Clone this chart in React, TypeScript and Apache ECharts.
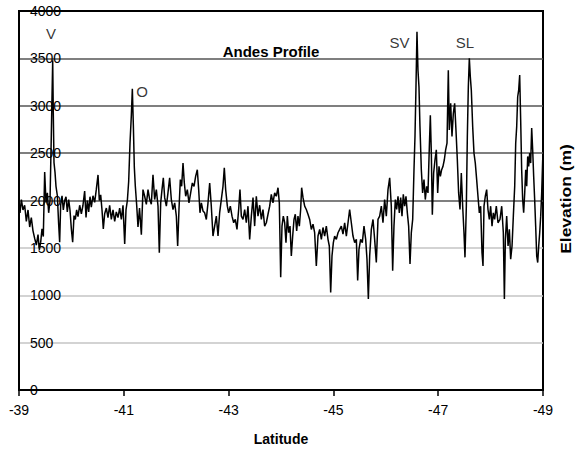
import React, { useEffect, useRef } from "react";
import * as echarts from "echarts";

// Andes profile: [latitude (deg), elevation (m)]
const profile: [number, number][] = [
  [-39.0, 1980], [-39.019, 1870], [-39.045, 2010], [-39.076, 1900], [-39.108, 1950],
  [-39.14, 1780], [-39.172, 1900], [-39.204, 1720], [-39.235, 1820], [-39.267, 1680],
  [-39.299, 1600], [-39.331, 1530], [-39.363, 1640], [-39.388, 1480], [-39.414, 1560],
  [-39.439, 1700], [-39.464, 1620], [-39.49, 2300], [-39.515, 1980], [-39.541, 2080],
  [-39.566, 1870], [-39.592, 2000], [-39.617, 2700], [-39.643, 3480], [-39.655, 2900],
  [-39.668, 2400], [-39.687, 2300], [-39.706, 2150], [-39.732, 2050], [-39.757, 1750],
  [-39.776, 1560], [-39.795, 1950], [-39.821, 2050], [-39.846, 1900], [-39.872, 2000],
  [-39.897, 2040], [-39.922, 1880], [-39.948, 2010], [-39.973, 1900], [-39.999, 1700],
  [-40.024, 1560], [-40.05, 1840], [-40.075, 1800], [-40.1, 1900], [-40.126, 1830],
  [-40.158, 1950], [-40.19, 1860], [-40.221, 1950], [-40.253, 2100], [-40.279, 1820],
  [-40.304, 2000], [-40.33, 1880], [-40.355, 2040], [-40.38, 1930], [-40.412, 2050],
  [-40.444, 1980], [-40.476, 2120], [-40.508, 2270], [-40.533, 2000], [-40.559, 2060],
  [-40.584, 1900], [-40.609, 1700], [-40.635, 1860], [-40.667, 1920], [-40.698, 1820],
  [-40.73, 1950], [-40.762, 1800], [-40.794, 1900], [-40.826, 1780], [-40.857, 1880],
  [-40.889, 1820], [-40.921, 1920], [-40.953, 1800], [-40.985, 1950], [-41.017, 1540],
  [-41.042, 1900], [-41.068, 2000], [-41.093, 2200], [-41.118, 2600], [-41.144, 2900],
  [-41.163, 3180], [-41.182, 2800], [-41.201, 2350], [-41.22, 2150], [-41.246, 1950],
  [-41.271, 1720], [-41.3, 1920],
  [-41.335, 1640], [-41.366, 2115], [-41.398, 2045], [-41.43, 1960], [-41.462, 2115],
  [-41.494, 2010], [-41.525, 1960], [-41.557, 2270], [-41.589, 2010], [-41.621, 2115],
  [-41.653, 1940], [-41.678, 1450], [-41.704, 1975], [-41.729, 2115], [-41.754, 2240],
  [-41.78, 2030], [-41.812, 1940], [-41.843, 2080], [-41.875, 2240], [-41.907, 2010],
  [-41.939, 1905], [-41.971, 1975], [-42.003, 1835], [-42.028, 1520], [-42.053, 1905],
  [-42.079, 2220], [-42.104, 2150], [-42.13, 2395], [-42.155, 2185], [-42.181, 2045],
  [-42.212, 2115], [-42.244, 1975], [-42.276, 2080], [-42.308, 2185], [-42.34, 2150],
  [-42.371, 2255], [-42.403, 2325], [-42.429, 2115], [-42.454, 1870], [-42.48, 1975],
  [-42.511, 1890], [-42.543, 1870], [-42.575, 1800], [-42.607, 1975], [-42.639, 2185],
  [-42.67, 1940], [-42.702, 1625], [-42.734, 1730], [-42.766, 1835], [-42.798, 1625],
  [-42.829, 1870], [-42.861, 2010], [-42.893, 2150], [-42.918, 2345], [-42.944, 2115],
  [-42.976, 1940], [-43.001, 1870], [-43.033, 1940], [-43.065, 1835], [-43.097, 1765],
  [-43.128, 1800], [-43.16, 1695], [-43.192, 1905], [-43.217, 2115], [-43.243, 1835],
  [-43.275, 1800], [-43.307, 1905], [-43.338, 1765], [-43.37, 1940], [-43.402, 1590],
  [-43.434, 1835], [-43.466, 2030], [-43.497, 1730], [-43.529, 2045], [-43.561, 1835],
  [-43.593, 1950],
  [-43.625, 1800], [-43.656, 1905], [-43.688, 1730], [-43.72, 1765], [-43.752, 1855],
  [-43.784, 1940], [-43.815, 2065], [-43.847, 1975], [-43.879, 2080], [-43.911, 2045],
  [-43.943, 2135], [-43.968, 1975], [-43.994, 1190], [-44.019, 1730], [-44.044, 1835],
  [-44.07, 1765], [-44.095, 1555], [-44.121, 1835], [-44.146, 1660], [-44.172, 1730],
  [-44.197, 1415], [-44.223, 1625], [-44.248, 1800], [-44.273, 1855], [-44.299, 1680],
  [-44.324, 1835], [-44.35, 1730], [-44.375, 1905], [-44.394, 2135], [-44.42, 2030],
  [-44.452, 1940], [-44.483, 1905], [-44.515, 1855], [-44.547, 1800], [-44.579, 1695],
  [-44.611, 1750], [-44.642, 1660], [-44.674, 1310], [-44.706, 1625], [-44.738, 1695],
  [-44.77, 1590], [-44.801, 1715], [-44.833, 1625], [-44.865, 1730], [-44.897, 1590],
  [-44.922, 1520], [-44.948, 1030], [-44.973, 1415], [-44.999, 1555], [-45.024, 1625],
  [-45.056, 1590], [-45.088, 1660], [-45.12, 1695], [-45.151, 1730], [-45.183, 1645],
  [-45.215, 1765], [-45.247, 1625], [-45.279, 1765], [-45.31, 1905], [-45.342, 1765],
  [-45.374, 1625], [-45.406, 1555], [-45.438, 1590], [-45.463, 1155], [-45.488, 1485],
  [-45.52, 1590], [-45.552, 1555], [-45.584, 1730], [-45.616, 1590], [-45.641, 1380],
  [-45.667, 960], [-45.692, 1415], [-45.724, 1695], [-45.756, 1800], [-45.787, 1590],
  [-45.819, 1345], [-45.851, 1800],
  [-45.883, 1835], [-45.915, 1940], [-45.946, 1765], [-45.978, 2010], [-46.01, 1835],
  [-46.042, 2115], [-46.074, 2240], [-46.105, 1940], [-46.131, 1260], [-46.156, 1730],
  [-46.182, 2010], [-46.207, 1905], [-46.233, 2045], [-46.258, 1870], [-46.284, 2030],
  [-46.309, 1835], [-46.334, 2065], [-46.36, 1940], [-46.385, 2045], [-46.411, 1870],
  [-46.436, 1730], [-46.462, 1330], [-46.487, 1660], [-46.513, 1800], [-46.538, 2325],
  [-46.557, 2675], [-46.576, 3200], [-46.595, 3780], [-46.614, 3375], [-46.633, 3200],
  [-46.652, 2780], [-46.678, 2325], [-46.703, 2080], [-46.729, 2220], [-46.754, 2010],
  [-46.78, 2150], [-46.805, 2080], [-46.831, 2570], [-46.85, 2900], [-46.869, 2500],
  [-46.888, 1850], [-46.913, 2290], [-46.939, 2430], [-46.964, 2535], [-46.99, 2080],
  [-47.015, 2360], [-47.041, 2255], [-47.066, 2325], [-47.091, 2360], [-47.117, 2430],
  [-47.142, 2535], [-47.168, 2605], [-47.193, 3375], [-47.212, 2745], [-47.238, 3025],
  [-47.263, 2675], [-47.289, 2920], [-47.314, 3025], [-47.339, 2745], [-47.365, 2430],
  [-47.39, 2080], [-47.416, 1905], [-47.441, 2290], [-47.467, 1940], [-47.492, 1660],
  [-47.511, 1400], [-47.537, 1940], [-47.556, 2675], [-47.575, 3200], [-47.594, 3500],
  [-47.613, 3305], [-47.632, 3165], [-47.658, 2780], [-47.683, 2500], [-47.708, 2395],
  [-47.734, 2220], [-47.759, 2045], [-47.785, 1870], [-47.81, 1940], [-47.836, 1450],
  [-47.855, 1310], [-47.874, 1940], [-47.899, 2045], [-47.925, 2115], [-47.95, 1905],
  [-47.976, 1800], [-48.001, 1940], [-48.027, 1730], [-48.052, 1870], [-48.077, 1800],
  [-48.109, 1940], [-48.141, 1765], [-48.179, 1800],
  [-48.212, 1940], [-48.243, 1660], [-48.263, 960], [-48.282, 1590], [-48.307, 1835],
  [-48.333, 1520], [-48.358, 1695], [-48.383, 1380], [-48.409, 1520], [-48.434, 1835],
  [-48.46, 2150], [-48.479, 2605], [-48.498, 2780], [-48.517, 3095], [-48.536, 3165],
  [-48.555, 3325], [-48.574, 2850], [-48.593, 2325], [-48.612, 2010], [-48.631, 1870],
  [-48.651, 2080], [-48.67, 2325], [-48.689, 2150], [-48.708, 2465], [-48.727, 2360],
  [-48.746, 2500], [-48.765, 2395], [-48.784, 2765], [-48.803, 2535], [-48.822, 2255],
  [-48.841, 2010], [-48.86, 1730], [-48.88, 1415], [-48.899, 1345], [-48.918, 1520],
  [-48.937, 1660], [-48.956, 1835], [-48.975, 2080], [-48.994, 2430], [-49.0, 2450],
];

// Peak annotations (volcano labels)
const peakNames = ["V", "O", "SV", "SL"];
const peakLat = [-39.61, -41.35, -46.26, -47.51];
const peakElev = [3760, 3150, 3665, 3665];

const latTicksStart = -39; // first tick (left edge)
const elevTicks = { min: 0, max: 4000, step: 500 };

const FONT = "'Liberation Sans', Arial, Helvetica, sans-serif";

// x position = degrees south of -39
const toX = (lat: number) => latTicksStart - lat;

export default function App() {
  const ref = useRef<HTMLDivElement>(null);

  useEffect(() => {
    if (!ref.current) return;
    const chart = echarts.init(ref.current, undefined, { renderer: "svg" });
    chart.setOption({
      animation: false,
      backgroundColor: "#fff",
      grid: {
        left: 19,
        right: 35,
        top: 11,
        bottom: 64,
        show: true,
        borderColor: "#000",
        borderWidth: 2,
        backgroundColor: "transparent",
      },
      xAxis: {
        type: "value",
        min: 0,
        max: 10,
        interval: 2,
        name: "Latitude",
        nameLocation: "middle",
        nameGap: 42,
        nameTextStyle: { fontFamily: FONT, fontSize: 14, fontWeight: "bold", color: "#000" },
        axisLine: { show: true, lineStyle: { color: "#000", width: 2 } },
        axisTick: { show: true, inside: false, length: 6, lineStyle: { color: "#000", width: 1.5 } },
        axisLabel: {
          fontFamily: FONT,
          fontSize: 14,
          color: "#000",
          margin: 13,
          formatter: (v: number) => String(latTicksStart - v),
        },
        splitLine: { show: false },
      },
      yAxis: {
        type: "value",
        min: elevTicks.min,
        max: elevTicks.max,
        interval: elevTicks.step,
        axisLine: { show: true, lineStyle: { color: "#000", width: 2 } },
        axisTick: { show: false },
        axisLabel: {
          inside: true,
          margin: 11,
          fontFamily: FONT,
          fontSize: 14,
          color: "#000",
          formatter: (v: number) => String(v),
        },
        splitLine: {
          show: true,
          lineStyle: {
            width: 1.5,
            color: ["#000", "#c4c4c4", "#c4c4c4", "#c4c4c4", "#555", "#555", "#555", "#555", "#000"],
          },
        },
        z: 1,
      },
      graphic: [
        {
          type: "text",
          x: 271,
          y: 51,
          style: {
            text: "Andes Profile",
            font: `bold 15px ${FONT}`,
            fill: "#000",
            textAlign: "center",
            textVerticalAlign: "middle",
          },
          z: 10,
        },
        {
          type: "text",
          x: 566,
          y: 199,
          rotation: Math.PI / 2,
          scaleX: 1.25,
          style: {
            text: "Elevation (m)",
            font: `bold 14px ${FONT}`,
            fill: "#000",
            textAlign: "center",
            textVerticalAlign: "middle",
          },
          z: 10,
        },
      ],
      series: [
        {
          type: "line",
          data: profile.map(([lat, e]) => [toX(lat), e]),
          showSymbol: false,
          symbol: "none",
          lineStyle: { color: "#000", width: 1.5 },
          z: 3,
        },
        {
          type: "scatter",
          data: peakNames.map((n, i) => ({ name: n, value: [toX(peakLat[i]), peakElev[i]] })),
          symbolSize: 1,
          itemStyle: { color: "rgba(0,0,0,0)" },
          label: {
            show: true,
            position: "inside",
            formatter: "{b}",
            fontFamily: FONT,
            fontSize: 15,
            color: "#000",
          },
          z: 4,
        },
      ],
    });
    return () => chart.dispose();
  }, []);

  return (
    <div
      ref={ref}
      style={{ position: "absolute", left: 0, top: 0, width: 578, height: 454 }}
    />
  );
}
